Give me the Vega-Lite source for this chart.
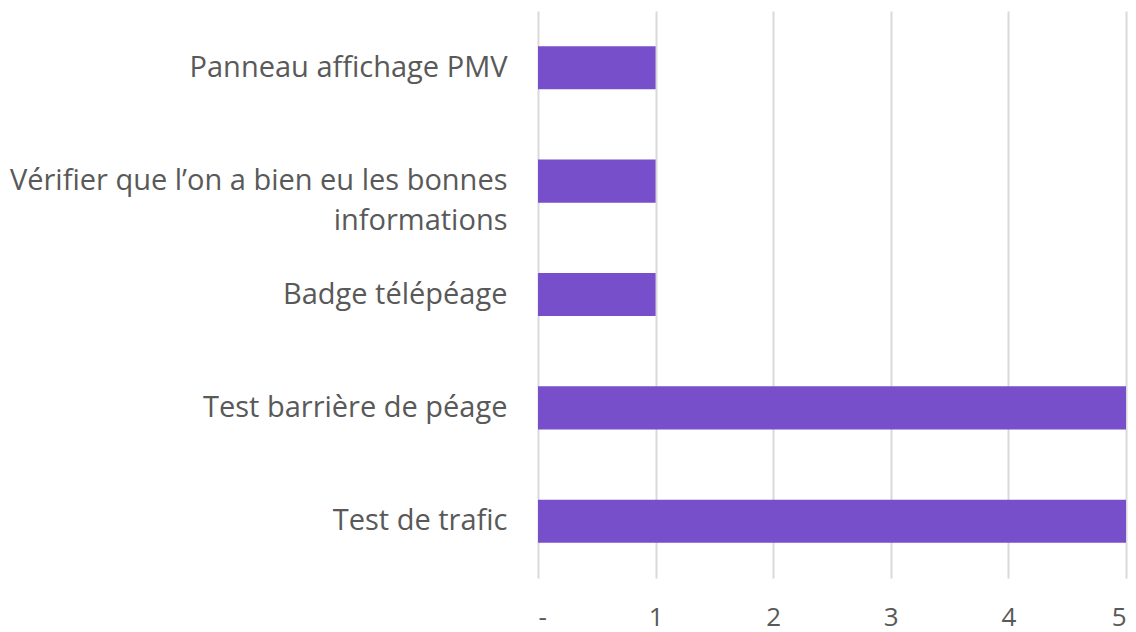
{
  "$schema": "https://vega.github.io/schema/vega-lite/v6.json",
  "width": 1136,
  "height": 632,
  "autosize": {"type": "fit", "contains": "padding"},
  "padding": {"left": 5, "top": 11, "right": 10, "bottom": 2},
  "background": "white",
  "data": {
    "values": [
      {"categorie": "Panneau affichage PMV", "valeur": 1},
      {"categorie": "Vérifier que l’on a bien eu les bonnes|informations", "valeur": 1},
      {"categorie": "Badge télépéage", "valeur": 1},
      {"categorie": "Test barrière de péage", "valeur": 5},
      {"categorie": "Test de trafic", "valeur": 5}
    ]
  },
  "config": {
    "view": {"stroke": null},
    "font": "Open Sans"
  },
  "mark": {"type": "bar", "color": "#774FCA"},
  "encoding": {
    "y": {
      "field": "categorie",
      "type": "nominal",
      "sort": null,
      "scale": {"paddingInner": 0.62, "paddingOuter": 0.31},
      "axis": {
        "title": null,
        "domain": false,
        "ticks": false,
        "labelPadding": 31,
        "labelFont": "Open Sans",
        "labelFontSize": 29,
        "labelColor": "#595959",
        "labelLimit": 600,
        "labelLineHeight": 40,
        "labelExpr": "split(datum.label, '|')",
        "minExtent": 533,
        "maxExtent": 533
      }
    },
    "x": {
      "field": "valeur",
      "type": "quantitative",
      "scale": {"domain": [0, 5], "nice": false},
      "axis": {
        "title": null,
        "values": [0, 1, 2, 3, 4, 5],
        "domain": false,
        "ticks": false,
        "grid": true,
        "gridColor": "#D9D9D9",
        "gridWidth": 2,
        "labelPadding": 26,
        "labelFont": "Open Sans",
        "labelFontSize": 26,
        "labelColor": "#595959",
        "labelExpr": "datum.value == 0 ? '-' : datum.label"
      }
    }
  }
}
